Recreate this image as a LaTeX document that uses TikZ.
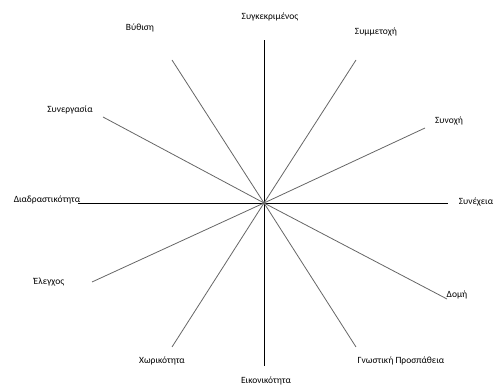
\documentclass[tikz,border=0pt]{standalone}
\usepackage{fontspec}
\setmainfont{Carlito}

\begin{document}
\begin{tikzpicture}
  [x=1pt,y=-1pt,
   every node/.style={font=\fontsize{9.5}{11}\selectfont,inner sep=1pt},
   axis/.style={draw=black,line width=0.8pt},
   spoke/.style={draw=black!60,line width=0.8pt}]
  \useasboundingbox (0,0) rectangle (496,387);

  % centre and free ends of the lines
  \coordinate (c)  at (264,203);
  \coordinate (t)  at (264,40);
  \coordinate (b)  at (264,366);
  \coordinate (l)  at (78,203);
  \coordinate (r)  at (448,203);
  \coordinate (e1) at (172,60);
  \coordinate (e2) at (356,60);
  \coordinate (e3) at (103,117);
  \coordinate (e4) at (425,128);
  \coordinate (e5) at (92,282);
  \coordinate (e6) at (447,299);
  \coordinate (e7) at (172,347);
  \coordinate (e8) at (356,347);

  % labels
  \node (sygk) at (270,17)  {Συγκεκριμένος};
  \node (eikn) at (266,381) {Εικονικότητα};
  \node (diad) at (47,200)  {Διαδραστικότητα};
  \node (syne) at (476,202) {Συνέχεια};
  \node (vyth) at (140,28)  {Βύθιση};
  \node (symm) at (376,32)  {Συμμετοχή};
  \node (syng) at (70,110)  {Συνεργασία};
  \node (synx) at (449,121) {Συνοχή};
  \node (eleg) at (49,282)  {Έλεγχος};
  \node (domi) at (457,295) {Δομή};
  \node (xori) at (162,361) {Χωρικότητα};
  \node (gnos) at (401,361) {Γνωστική Προσπάθεια};

  \foreach \from/\to in {c/t,c/b,c/l,c/r}
    \draw[axis] (\from) -- (\to);
  \foreach \from/\to in {c/e1,c/e2,c/e3,c/e4,c/e5,c/e6,c/e7,c/e8}
    \draw[spoke] (\from) -- (\to);
\end{tikzpicture}
\end{document}
